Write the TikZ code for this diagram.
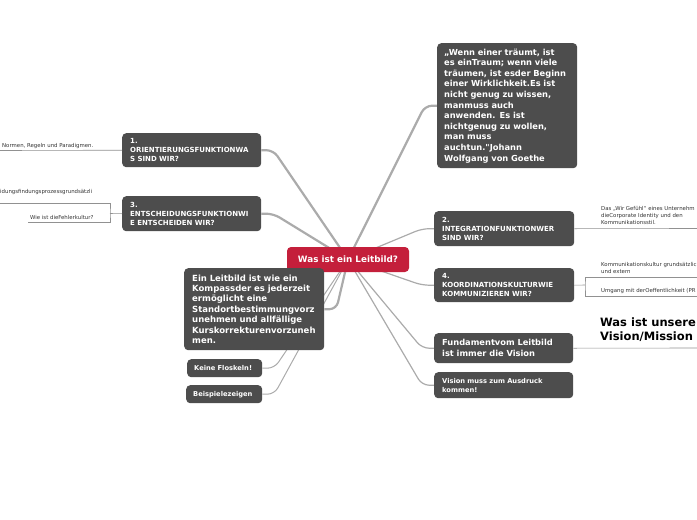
\documentclass[tikz,border=0pt]{standalone}
\usepackage{fontspec}
\setmainfont{DejaVu Sans}[Ligatures=TeXOff]
\usetikzlibrary{positioning, calc, backgrounds}
\definecolor{cdark}{HTML}{4D4D4D}
\definecolor{cred}{HTML}{C41F3B}
\definecolor{cline}{HTML}{ABABAB}
\definecolor{cnote}{HTML}{333333}
\tikzset{
  every picture/.style={x=1pt, y=-1pt},
  topic/.style={fill=cdark, text=white, rounded corners=4pt, align=left, anchor=north west, inner xsep=8pt, inner ysep=3pt},
  root/.style={fill=cred, text=white, font=\bfseries\fontsize{8.8}{10}\selectfont, rounded corners=4pt, minimum width=122pt, minimum height=25pt},
  big/.style={font=\bfseries\fontsize{8.3}{10.6}\selectfont},
  caps/.style={font=\bfseries\fontsize{7}{9.2}\selectfont},
  small/.style={font=\bfseries\fontsize{6.7}{9}\selectfont},
  branch/.style={draw=cline, line width=#1, rounded corners=7pt},
  branch/.default=1.2pt,
  leaf/.style={draw=cline!85!black, line width=0.6pt},
  note/.style={text=cnote, font=\fontsize{5.4}{7}\selectfont, align=left, inner sep=0pt},
}
\begin{document}
\begin{tikzpicture}
  \useasboundingbox (0,0) rectangle (697,520);
  \clip (0,0) rectangle (697,520);
  % main topic
  \node[root] (c) at (348,259.5) {Was ist ein Leitbild?};
  % right side
  \node[topic, big, inner xsep=7pt, text width=126pt, minimum height=125pt] (q) at (437,43)
    {„Wenn einer träumt, ist\\es einTraum; wenn viele\\träumen, ist esder Beginn\\einer Wirklichkeit.Es ist\\nicht genug zu wissen,\\manmuss auch\\anwenden. Es ist\\nichtgenug zu wollen,\\man muss\\auchtun."Johann\\Wolfgang von Goethe};
  \node[topic, caps, text width=124pt, minimum height=35pt] (o2) at (434,211) {2.\\INTEGRATIONFUNKTIONWER\\SIND WIR?};
  \node[topic, caps, text width=124pt, minimum height=34pt] (o4) at (434,268) {4.\\KOORDINATIONSKULTURWIE\\KOMMUNIZIEREN WIR?};
  \node[topic, font=\bfseries\fontsize{8.3}{11}\selectfont, text width=123pt, minimum height=30pt] (fv) at (434,333) {Fundamentvom Leitbild\\ist immer die Vision};
  \node[topic, small, text width=123pt, minimum height=26pt] (va) at (434,372) {Vision muss zum Ausdruck\\kommen!};
  % left side
  \node[topic, caps, text width=123pt, minimum height=34pt] (o1) at (122,133) {1.\\ORIENTIERUNGSFUNKTIONWA\\S SIND WIR?};
  \node[topic, caps, text width=123pt, minimum height=35pt] (o3) at (122,196) {3.\\ENTSCHEIDUNGSFUNKTIONWI\\E ENTSCHEIDEN WIR?};
  \node[topic, text width=124pt, minimum height=82pt, font=\bfseries\fontsize{8.5}{10.4}\selectfont] (lb) at (184,268)
    {Ein Leitbild ist wie ein\\Kompassder es jederzeit\\ermöglicht eine\\Standortbestimmungvorz\\unehmen und allfällige\\Kurskorrekturenvorzuneh\\men.};
  \node[topic, small, inner xsep=7pt, text width=61pt, minimum height=18pt] (kf) at (187,359) {Keine Floskeln!};
  \node[topic, small, inner xsep=7pt, text width=62pt, minimum height=18pt] (bz) at (186,385) {Beispielezeigen};
  % notes
  \node[note, anchor=base west] (n1) at (2,147) {Normen, Regeln und Paradigmen.};
  \node[note, anchor=base west] (n3a) at (0,193) {idungsfindungsprozessgrundsätzli};
  \node[note, anchor=base west] (n3b) at (30,219.5) {Wie ist dieFehlerkultur?};
  \node[note, anchor=north west] (n2) at (601,206) {Das „Wir Gefühl“ eines Unternehm\\dieCorporate Identity und den\\Kommunikationsstil.};
  \node[note, anchor=base west] (n4a) at (601,266) {Kommunikationskultur grundsätzlic};
  \node[note, anchor=base west] (n4b) at (601,273) {und extern};
  \node[note, anchor=base west] (n4c) at (601,292) {Umgang mit derOeffentlichkeit (PR};
  \node[anchor=north west, align=left, inner sep=0pt, font=\bfseries\fontsize{11.5}{14}\selectfont] (vm) at (600,318) {Was ist unsere\\Vision/Mission};
  % end points of the note lines
  \coordinate (e1) at (0,150.5);
  \coordinate (b3) at (110,213.5);
  \coordinate (b3t) at (0,203);
  \coordinate (b3b) at (28,222);
  \coordinate (e2) at (697,228.5);
  \coordinate (b4) at (585,285);
  \coordinate (b4t) at (697,277);
  \coordinate (b4b) at (697,296);
  \coordinate (e5) at (697,348);
  \begin{scope}[on background layer]
    \foreach \t/\w in {q/2.2pt, o2/1.2pt, o4/1.2pt, fv/1.2pt, va/1.2pt}
      \draw[branch=\w] (c.center) -- ($(\t.west)+(-12,0)$) -- (\t.west);
    \foreach \t/\w in {o1/2.2pt, o3/2.2pt, lb/2.2pt, kf/1pt, bz/1pt}
      \draw[branch=\w] (c.center) -- ($(\t.east)+(12,0)$) -- (\t.east);
  \end{scope}
  \draw[leaf] (o1.west) -- (e1);
  \draw[leaf] (o3.west) -- (b3);
  \draw[leaf] (b3t) -| (b3) |- (b3b);
  \draw[leaf] (o2.east) -- (e2);
  \draw[leaf] (o4.east) -- (b4);
  \draw[leaf] (b4t) -| (b4) |- (b4b);
  \draw[leaf] (fv.east) -- (e5);
\end{tikzpicture}
\end{document}
